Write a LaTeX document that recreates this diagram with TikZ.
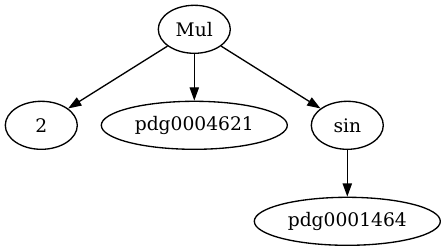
\documentclass[tikz,border=0pt]{standalone}
\usepackage{fontspec}
\setmainfont{DejaVu Serif}
\usetikzlibrary{shapes.geometric,arrows.meta}
\begin{document}
\begin{tikzpicture}[x=1pt,y=-1pt,
  gnode/.style={ellipse,draw,line width=1.33pt,inner sep=0pt,minimum width=72pt,minimum height=48pt,font=\fontsize{18.67}{22}\selectfont},
  wnode/.style={gnode,minimum width=186pt},
  gedge/.style={line width=1.33pt,-{Triangle[length=13.3pt,width=9.3pt]}}]
\useasboundingbox (0,0) rectangle (446,251);
\node[gnode] (mul) at (194.3,29.3) {Mul};
\node[gnode] (two) at (41.3,125.3) {2};
\node[wnode] (p1) at (194.3,125.3) {pdg0004621};
\node[gnode] (sin) at (347.3,125.3) {sin};
\node[wnode] (p2) at (347.3,221.3) {pdg0001464};
\draw[gedge] (mul) -- (two);
\draw[gedge] (mul) -- (p1);
\draw[gedge] (mul) -- (sin);
\draw[gedge] (sin) -- (p2);
\end{tikzpicture}
\end{document}
